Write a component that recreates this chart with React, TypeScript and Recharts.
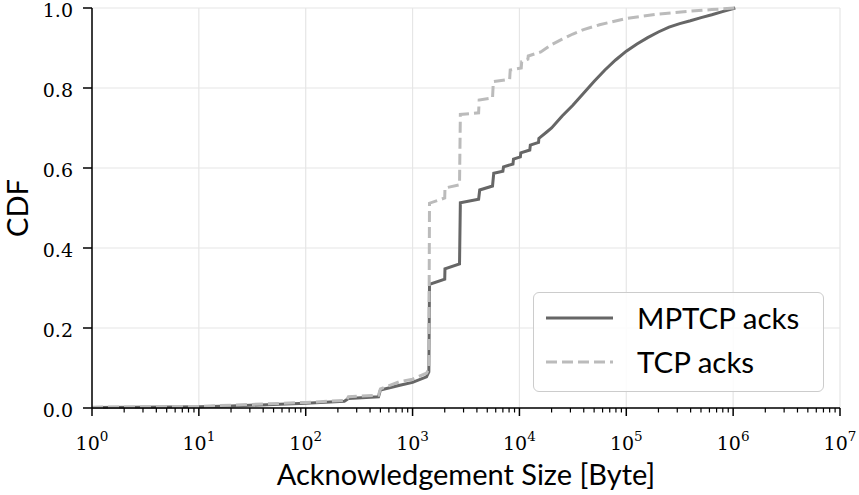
import React from "react";
import { LineChart, Line, XAxis, YAxis, CartesianGrid, Legend } from "recharts";

const mptcpBytes = [1, 10, 20, 100, 230, 251, 480, 500, 760, 1000, 1350, 1420, 1440, 2000, 2010, 2750, 2800, 4150, 4250, 5600, 5750, 7000, 7100, 8700, 8800, 10200, 10300, 12500, 12650, 15100, 15200, 18000, 20000, 25120, 31620, 39810, 50120, 63100, 79430, 100000, 125900, 158500, 199500, 251200, 316200, 398100, 501200, 631000, 794300, 1047000];
const mptcpCdf = [0.001, 0.003, 0.005, 0.012, 0.017, 0.024, 0.028, 0.045, 0.057, 0.064, 0.078, 0.09, 0.309, 0.322, 0.348, 0.36, 0.513, 0.522, 0.545, 0.555, 0.587, 0.592, 0.603, 0.61, 0.622, 0.628, 0.638, 0.645, 0.657, 0.664, 0.674, 0.69, 0.7, 0.73, 0.757, 0.787, 0.817, 0.845, 0.87, 0.892, 0.91, 0.926, 0.94, 0.952, 0.961, 0.968, 0.976, 0.983, 0.991, 1.0];

const tcpBytes = [1, 10, 20, 100, 240, 251, 480, 500, 760, 1000, 1350, 1420, 1440, 2000, 2010, 2750, 2800, 4150, 4200, 5600, 5700, 8100, 8200, 10400, 10500, 12000, 12100, 15850, 19500, 25120, 31620, 39810, 56200, 100000, 199500, 398100, 631000, 1047000];
const tcpCdf = [0.002, 0.004, 0.007, 0.014, 0.019, 0.028, 0.032, 0.048, 0.066, 0.072, 0.087, 0.097, 0.512, 0.525, 0.55, 0.558, 0.734, 0.738, 0.77, 0.775, 0.816, 0.822, 0.845, 0.85, 0.866, 0.872, 0.88, 0.89, 0.907, 0.922, 0.935, 0.946, 0.958, 0.974, 0.985, 0.992, 0.996, 1.0];

const majorTicks = [1, 10, 100, 1000, 10000, 100000, 1000000, 10000000];
const yTicks = [0, 0.2, 0.4, 0.6, 0.8, 1.0];

const series = [
  { name: "MPTCP acks", color: "#666666", dash: undefined as string | undefined },
  { name: "TCP acks", color: "#bbbbbb", dash: "11 5" },
];

const mptcpData = mptcpBytes.map((b, i) => ({ bytes: b, cdf: mptcpCdf[i] }));
const tcpData = tcpBytes.map((b, i) => ({ bytes: b, cdf: tcpCdf[i] }));

// minor ticks 2..9 x 10^k between the decades
const allTicks: number[] = [];
majorTicks.forEach((m, k) => {
  allTicks.push(m);
  if (k < majorTicks.length - 1) for (let j = 2; j <= 9; j++) allTicks.push(m * j);
});

const tickFont = "'DejaVu Serif', serif";
const labelFont = "Lato, 'Open Sans', sans-serif";

const XTick = (props: any) => {
  const { x, y, payload } = props;
  const v = payload.value;
  const exp = Math.round(Math.log10(v));
  const major = Math.abs(Math.log10(v) - exp) < 1e-9;
  if (!major) return <line x1={x} x2={x} y1={y} y2={y + 4.5} stroke="#000" strokeWidth={1.2} />;
  return (
    <g>
      <line x1={x} x2={x} y1={y} y2={y + 8} stroke="#000" strokeWidth={1.5} />
      <text x={x} y={y + 42} textAnchor="middle" fontFamily={tickFont} fontSize={19} fill="#000">
        10<tspan dy={-9} fontSize={13.5}>{exp}</tspan>
      </text>
    </g>
  );
};

const YTick = (props: any) => {
  const { x, y, payload } = props;
  return (
    <g>
      <line x1={x - 9} x2={x} y1={y} y2={y} stroke="#000" strokeWidth={1.5} />
      <text x={x - 19} y={y + 8.5} textAnchor="end" fontFamily={tickFont} fontSize={19} fill="#000">
        {Number(payload.value).toFixed(1)}
      </text>
    </g>
  );
};

const YLabel = (props: any) => {
  const vb = props.viewBox || {};
  const cx = (vb.x || 0) + 28;
  const cy = (vb.y || 0) + (vb.height || 0) / 2;
  return (
    <text x={cx} y={cy} transform={`rotate(-90, ${cx}, ${cy})`} textAnchor="middle" fontFamily={labelFont} fontSize={29} fill="#000">
      CDF
    </text>
  );
};

const LegendBox = () => (
  <div
    style={{
      width: 289,
      height: 98,
      border: "1.5px solid #cccccc",
      borderRadius: 6,
      background: "rgba(255,255,255,0.85)",
      position: "relative",
      fontFamily: labelFont,
      fontSize: 29.5,
      color: "#000",
    }}
  >
    {series.map((s, i) => (
      <div key={s.name} style={{ position: "absolute", left: 0, top: 5 + i * 44, height: 40, display: "flex", alignItems: "center" }}>
        <svg width={100} height={40} style={{ display: "block" }}>
          <line x1={12} x2={79} y1={20} y2={20} stroke={s.color} strokeWidth={3} strokeDasharray={s.dash} />
        </svg>
        <span style={{ marginLeft: 3, lineHeight: "40px" }}>{s.name}</span>
      </div>
    ))}
  </div>
);

export default function App() {
  return (
    <div style={{ position: "absolute", left: 0, top: 0, width: 859, height: 495, background: "#fff" }}>
      <LineChart width={859} height={495} margin={{ top: 8, right: 19, left: 0, bottom: 0 }}>
        <CartesianGrid
          stroke="#e6e6e6"
          strokeWidth={1.2}
          horizontalValues={yTicks}
          verticalValues={majorTicks}
        />
        <XAxis
          dataKey="bytes"
          type="number"
          scale="log"
          domain={[1, 10000000]}
          ticks={allTicks}
          interval={0}
          allowDataOverflow
          height={87}
          tickSize={0}
          tickMargin={0}
          tickLine={false}
          tick={<XTick />}
          axisLine={{ stroke: "#000", strokeWidth: 1.5 }}
          label={{ value: "Acknowledgement Size [Byte]", position: "insideBottom", offset: 10, style: { fontFamily: labelFont, fontSize: 29, fill: "#000" } }}
        />
        <XAxis xAxisId="top" orientation="top" type="number" scale="log" domain={[1, 10000000]} height={0} tick={false} tickLine={false} axisLine={{ stroke: "#000", strokeWidth: 1.5 }} />
        <YAxis
          type="number"
          domain={[0, 1]}
          ticks={yTicks}
          interval={0}
          width={92}
          tickSize={0}
          tickMargin={0}
          tickLine={false}
          tick={<YTick />}
          axisLine={{ stroke: "#000", strokeWidth: 1.5 }}
          label={<YLabel />}
        />
        <YAxis yAxisId="right" orientation="right" type="number" domain={[0, 1]} width={0} tick={false} tickLine={false} axisLine={{ stroke: "#000", strokeWidth: 1.5 }} />
        <Legend
          layout="vertical"
          align="center"
          verticalAlign="middle"
          wrapperStyle={{ left: 533, top: 292, width: 291, height: 100 }}
          content={() => <LegendBox />}
        />
        <Line
          data={mptcpData}
          dataKey="cdf"
          name={series[0].name}
          type="linear"
          stroke={series[0].color}
          strokeWidth={3}
          dot={false}
          isAnimationActive={false}
        />
        <Line
          data={tcpData}
          dataKey="cdf"
          name={series[1].name}
          type="linear"
          stroke={series[1].color}
          strokeWidth={3}
          strokeDasharray={series[1].dash}
          dot={false}
          isAnimationActive={false}
        />
      </LineChart>
    </div>
  );
}
